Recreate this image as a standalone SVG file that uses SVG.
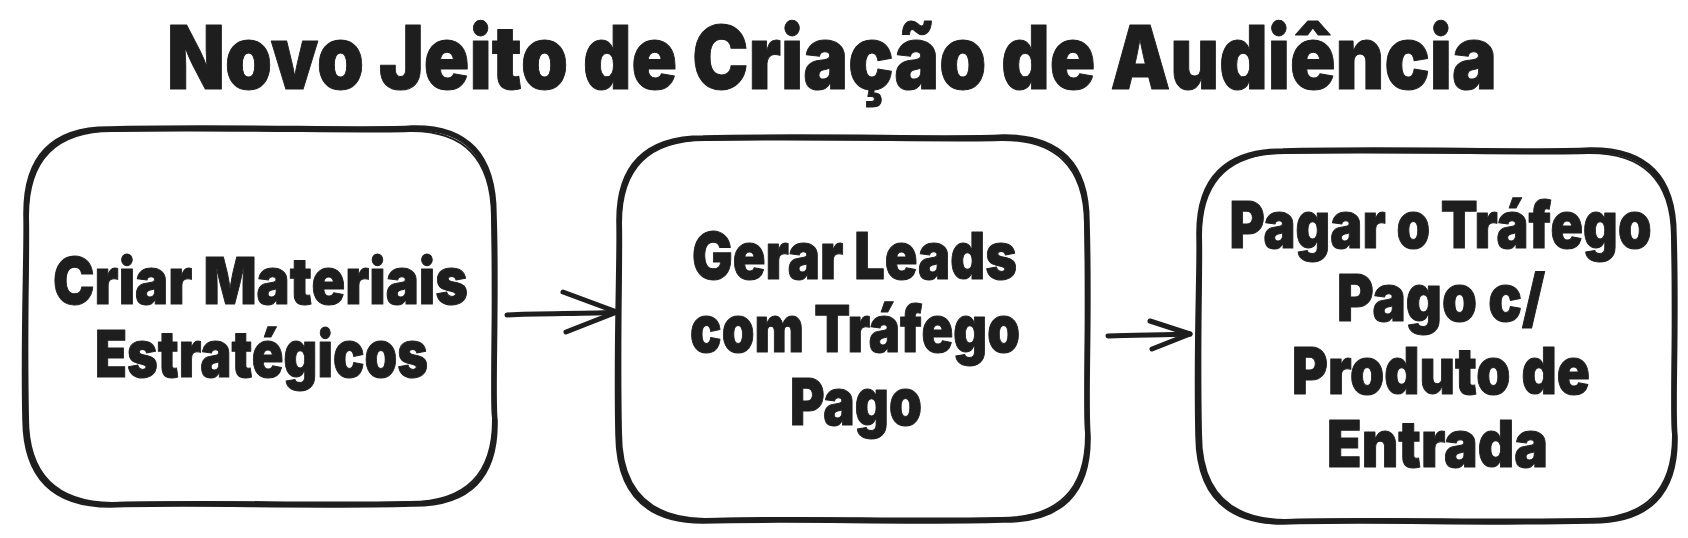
<svg xmlns="http://www.w3.org/2000/svg" width="1688" height="538" viewBox="0 0 1688 538">
<style>
.box{fill:#ffffff;stroke:#1e1e1e;stroke-width:5.5;stroke-linecap:round;stroke-linejoin:round}
.box2{fill:none;stroke:#1e1e1e;stroke-width:2;stroke-linecap:round}
.t{font-family:Inter,Lato,"DejaVu Sans",sans-serif;font-weight:900;fill:#1e1e1e;text-anchor:middle;stroke:#1e1e1e;stroke-width:1;stroke-linejoin:round}
.title{font-size:88px}
.lbl{font-size:65px}
.conn{fill:none;stroke:#1e1e1e;stroke-width:5;stroke-linecap:round;stroke-linejoin:round}
</style>
<rect width="1688" height="538" fill="#ffffff"/>
<g id="title">
<text class="t title" x="832" y="89" textLength="1330" lengthAdjust="spacingAndGlyphs">Novo Jeito de Criação de Audiência</text>
</g>
<g id="node1">
<path class="box" d="M110,129 C220,126 380,131 412,128 Q494,126 494,215 C497,300 492,400 495,420 Q497,505 412,504 C300,507 200,502 110,505 Q26,505 25,420 C23,330 27,250 26,215 Q25,128 110,129 Z"/>
<path class="box2" d="M112,131 C230,129 370,133 410,131 Q491,130 492,216 C494,320 491,390 493,418 Q494,502 410,502 C300,504 210,500 112,503 Q28,502 28,418 C26,320 29,260 28,216 Q28,131 112,131"/>
<text class="t lbl" x="260.5" y="304" textLength="415" lengthAdjust="spacingAndGlyphs">Criar Materiais</text>
<text class="t lbl" x="261.5" y="377" textLength="333" lengthAdjust="spacingAndGlyphs">Estratégicos</text>
</g>
<g id="node2">
<path class="box" d="M703,138 C820,135 950,140 1003,137 Q1087,136 1087,222 C1090,320 1085,400 1088,435 Q1090,521 1003,520 C900,523 800,518 703,521 Q619,521 618,435 C616,340 620,260 619,222 Q618,138 703,138 Z"/>
<path class="box2" d="M705,140 C830,138 950,142 1001,140 Q1084,139 1085,223 C1087,320 1084,400 1086,433 Q1087,518 1001,518 C900,520 800,516 705,519 Q621,518 621,433 C619,340 622,260 621,223 Q621,140 705,140"/>
<text class="t lbl" x="854.5" y="279" textLength="325" lengthAdjust="spacingAndGlyphs">Gerar Leads</text>
<text class="t lbl" x="855" y="352" textLength="330" lengthAdjust="spacingAndGlyphs">com Tráfego</text>
<text class="t lbl" x="856" y="425" textLength="132" lengthAdjust="spacingAndGlyphs">Pago</text>
</g>
<g id="node3">
<path class="box" d="M1283,151 C1400,148 1530,153 1590,150 Q1674,149 1674,235 C1677,330 1672,410 1675,436 Q1677,522 1590,521 C1480,524 1380,519 1283,522 Q1199,522 1198,436 C1196,340 1200,270 1199,235 Q1198,151 1283,151 Z"/>
<path class="box2" d="M1285,153 C1410,151 1530,155 1588,153 Q1671,152 1672,236 C1674,330 1671,410 1673,434 Q1674,519 1588,519 C1480,521 1380,517 1285,520 Q1201,519 1201,434 C1199,340 1202,270 1201,236 Q1201,153 1285,153"/>
<text class="t lbl" x="1440.5" y="248" textLength="422" lengthAdjust="spacingAndGlyphs">Pagar o Tráfego</text>
<text class="t lbl" x="1441" y="321" textLength="208" lengthAdjust="spacingAndGlyphs">Pago c/</text>
<text class="t lbl" x="1441" y="394" textLength="298" lengthAdjust="spacingAndGlyphs">Produto de</text>
<text class="t lbl" x="1437.5" y="467" textLength="221" lengthAdjust="spacingAndGlyphs">Entrada</text>
</g>
<g id="connectors">
<path class="conn" d="M507,315 C540,313 590,314 617,312"/>
<path class="conn" d="M563,292 L617,312 L566,332"/>
<path class="conn" d="M1108,336 C1135,335 1165,335 1190,334"/>
<path class="conn" d="M1150,321 L1190,334 L1152,349"/>
</g>
</svg>
